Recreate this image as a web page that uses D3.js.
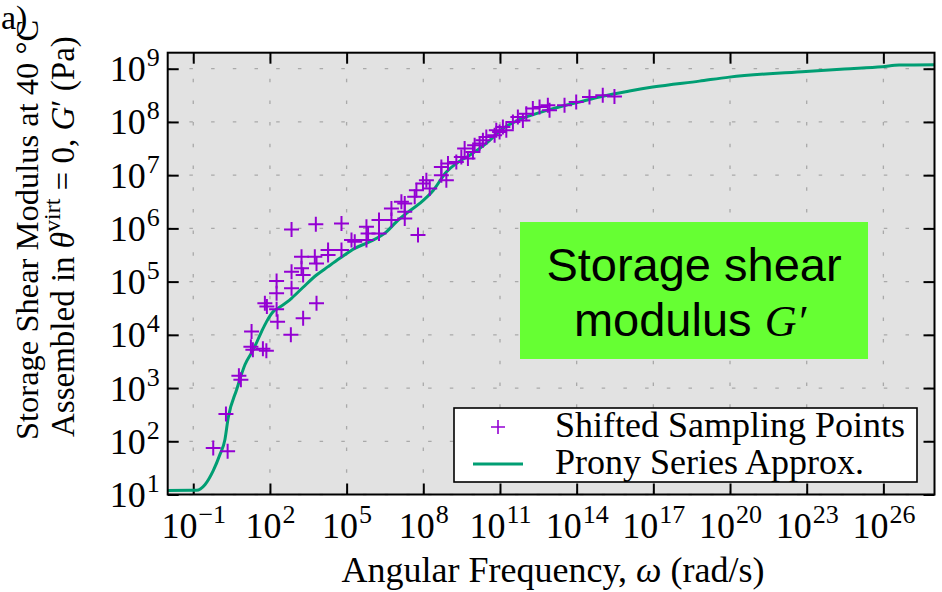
<!DOCTYPE html>
<html>
<head>
<meta charset="utf-8">
<script src="https://cdn.jsdelivr.net/npm/d3@7"></script>
<style>
  html, body { margin: 0; padding: 0; background: #ffffff; }
  svg { display: block; }
</style>
</head>
<body>
<svg id="chart" width="942" height="592"></svg>
<script>
// Shifted sampling points: angular frequency (rad/s) and storage modulus G' (Pa)
const sampleOmega = [
  0.605, 2.21, 1.90, 6.1, 7.3, 19.1, 18, 21.5, 53, 72.5,
  63.4, 75.9, 182, 182, 182, 199, 700, 700, 700, 658,
  1720, 1720, 1990, 1990, 6240, 5700, 6640, 6640, 1.88e4, 1.88e4,
  6.3e4, 6.3e4, 1.55e5, 2.08e5, 5.97e5, 6.9e5, 5.97e5, 1.85e6, 1.85e6, 5.66e6,
  5.66e6, 1.88e7, 1.88e7, 6.2e7, 1.39e7, 1.88e7, 4.61e7, 5.37e7, 9.7e7, 1.32e8,
  1.78e8, 5.09e8, 5.09e8, 7.98e8, 9.23e8, 1.96e9, 3.08e9, 4.14e9, 5.57e9, 8.75e9,
  1.6e10, 2.92e10, 6.17e10, 9.66e10, 1.02e10, 2.15e10, 7.18e10, 1.3e11, 1.77e11, 3.2e11,
  5.01e11, 7.87e11, 1.07e12, 1.93e12, 3.53e12, 7.46e12, 8.69e12, 3.35e13, 9.6e13, 3.18e14,
  1.05e15, 3.01e15
];
const sampleG = [
  75, 65, 325, 1700, 1430, 11600, 5940, 5220, 5460, 5000,
  39200, 33900, 1.03e5, 6.04e4, 3.03e4, 1.77e4, 9.57e5, 1.53e5, 7.5e4, 1.0e4,
  2.93e5, 1.78e5, 1.33e5, 2.05e4, 1.2e6, 2.93e5, 2.2e5, 3.92e4, 3.92e5, 3.16e5,
  1.24e6, 3.92e5, 6.03e5, 5.61e5, 1.07e6, 8.05e5, 6.03e5, 1.43e6, 8.05e5, 2.37e6,
  1.43e6, 2.94e6, 1.54e6, 7.48e5, 3.15e6, 2.05e6, 3.91e6, 5.22e6, 6.98e6, 8.05e6,
  5.62e6, 1.43e7, 9.98e6, 8.05e6, 1.66e7, 1.77e7, 2.2e7, 3.16e7, 2.05e7, 2.73e7,
  3.92e7, 5.22e7, 5.61e7, 6.47e7, 3.65e7, 4.53e7, 6.97e7, 8.04e7, 6.97e7, 9.97e7,
  1.24e8, 1.07e8, 1.43e8, 1.78e8, 1.91e8, 2.05e8, 1.65e8, 2.05e8, 2.37e8, 2.93e8,
  3.16e8, 3.0e8
];

// Prony series approximation of G'(omega)
const pronyOmega = [
  1e-2, 0.136, 0.286, 0.605, 1.10, 1.73, 2.33, 4.97, 10.5, 22.1,
  47.1, 73.8, 134, 210, 700, 1990, 6640, 1.88e4, 5.41e4, 2.08e5,
  8.04e5, 3.61e6, 8.87e6, 2.18e7, 7.23e7, 2.39e8, 7.98e8, 1.96e9, 6.5e9, 2.92e10,
  1.3e11, 5.85e11, 2.62e12, 1.17e13, 5.25e13, 2.36e14, 1.05e15, 1.16e16, 9.46e16, 6.31e18,
  9.4e19, 9.33e22, 3.0e24, 9.12e25, 4.17e26, 1e28
];
const pronyG = [
  11.9, 12.0, 15.3, 28.1, 56.1, 107, 277, 929, 2740, 5220,
  11500, 17700, 27300, 31600, 48600, 78300, 1.33e5, 1.91e5, 2.74e5, 4.22e5,
  5.61e5, 8.63e5, 1.33e6, 1.91e6, 2.94e6, 5.1e6, 1.15e7, 1.66e7, 2.37e7, 3.97e7,
  7.5e7, 1.11e8, 1.43e8, 1.78e8, 2.14e8, 2.55e8, 3.03e8, 3.8e8, 4.52e8, 5.85e8,
  6.95e8, 8.89e8, 9.9e8, 1.09e9, 1.17e9, 1.19e9
];

// Axis ticks (powers of ten)
const xTickExponents = [-1, 2, 5, 8, 11, 14, 17, 20, 23, 26];
const yTickExponents = [1, 2, 3, 4, 5, 6, 7, 8, 9];
const legendLabels = ["Shifted Sampling Points", "Prony Series Approx."];

const serif = "'Liberation Serif', 'Times New Roman', serif";
const sans = "'Liberation Sans', Arial, sans-serif";
const purple = "#9400d3";
const green = "#009e73";

const svg = d3.select("#chart");
const frame = { left: 167.7, right: 934.5, top: 52.7, bottom: 494.5 };

const x = d3.scaleLog().domain([1e-2, 1e28]).range([frame.left, frame.right]);
const y = d3.scaleLog().domain([10, 2e9]).range([frame.bottom, frame.top]);

// plot background
svg.append("rect")
  .attr("x", frame.left).attr("y", frame.top)
  .attr("width", frame.right - frame.left).attr("height", frame.bottom - frame.top)
  .attr("fill", "#e2e2e2");

svg.append("defs").append("clipPath").attr("id", "plot-clip")
  .append("rect")
  .attr("x", frame.left).attr("y", frame.top)
  .attr("width", frame.right - frame.left).attr("height", frame.bottom - frame.top);

const xTicks = xTickExponents.map(e => Math.pow(10, e));
const yTicks = yTickExponents.map(e => Math.pow(10, e));

// dotted grid
const grid = svg.append("g")
  .attr("stroke", "#a9a9a9").attr("stroke-width", 1.3).attr("stroke-dasharray", "3.5,18.2");
grid.selectAll("line.gx").data(xTicks).join("line")
  .attr("x1", d => x(d)).attr("x2", d => x(d))
  .attr("y1", frame.bottom).attr("y2", frame.top);
grid.selectAll("line.gy").data(yTicks).join("line")
  .attr("x1", frame.left).attr("x2", frame.right)
  .attr("y1", d => y(d)).attr("y2", d => y(d));

// tick marks on all four sides, pointing inward
const tickLen = 11;
function styleAxis(g) {
  g.select(".domain").remove();
  g.selectAll(".tick line").attr("stroke", "#000").attr("stroke-width", 2);
  g.selectAll(".tick text").remove();
}
const xAxisBottom = svg.append("g").attr("transform", `translate(0,${frame.bottom})`)
  .call(d3.axisBottom(x).tickValues(xTicks).tickSize(-tickLen).tickFormat(""));
styleAxis(xAxisBottom);
const xAxisTop = svg.append("g").attr("transform", `translate(0,${frame.top})`)
  .call(d3.axisTop(x).tickValues(xTicks).tickSize(-tickLen).tickFormat(""));
styleAxis(xAxisTop);
const yAxisLeft = svg.append("g").attr("transform", `translate(${frame.left},0)`)
  .call(d3.axisLeft(y).tickValues(yTicks).tickSize(-tickLen).tickFormat(""));
styleAxis(yAxisLeft);
const yAxisRight = svg.append("g").attr("transform", `translate(${frame.right},0)`)
  .call(d3.axisRight(y).tickValues(yTicks).tickSize(-tickLen).tickFormat(""));
styleAxis(yAxisRight);

// power-of-ten tick labels
function powerLabel(sel, exp) {
  sel.append("tspan").text("10");
  sel.append("tspan").attr("font-size", 26).attr("dx", 1).attr("dy", -15)
    .text(exp < 0 ? "\u2212" + Math.abs(exp) : String(exp));
}
xAxisBottom.selectAll(".tick").each(function (d, i) {
  const t = d3.select(this).append("text")
    .attr("y", 43).attr("text-anchor", "middle")
    .attr("font-family", serif).attr("font-size", 36).attr("fill", "#000");
  powerLabel(t, xTickExponents[i]);
});
yAxisLeft.selectAll(".tick").each(function (d, i) {
  const t = d3.select(this).append("text")
    .attr("x", -8).attr("y", 12).attr("text-anchor", "end")
    .attr("font-family", serif).attr("font-size", 36).attr("fill", "#000");
  powerLabel(t, yTickExponents[i]);
});

// data layer
const plot = svg.append("g").attr("clip-path", "url(#plot-clip)");

const fitData = pronyOmega.map((w, i) => [w, pronyG[i]]);
const line = d3.line().x(d => x(d[0])).y(d => y(d[1])).curve(d3.curveMonotoneX);
plot.append("path").datum(fitData)
  .attr("d", line).attr("fill", "none")
  .attr("stroke", green).attr("stroke-width", 3).attr("stroke-linejoin", "round");

const samples = sampleOmega.map((w, i) => [w, sampleG[i]]);
const plusPath = "M-7.5,0H7.5M0,-7.5V7.5";
plot.selectAll("path.sample").data(samples).join("path")
  .attr("class", "sample")
  .attr("transform", d => `translate(${x(d[0])},${y(d[1])})`)
  .attr("d", plusPath)
  .attr("fill", "none").attr("stroke", purple).attr("stroke-width", 2);

// annotation box
svg.append("rect")
  .attr("x", 520).attr("y", 222).attr("width", 348).attr("height", 137)
  .attr("fill", "#66ff33");
svg.append("text")
  .attr("x", 694).attr("y", 281).attr("text-anchor", "middle")
  .attr("font-family", sans).attr("font-size", 47).attr("fill", "#000")
  .text("Storage shear");
const ann2 = svg.append("text")
  .attr("x", 690).attr("y", 336).attr("text-anchor", "middle")
  .attr("font-family", sans).attr("font-size", 47).attr("fill", "#000");
ann2.append("tspan").text("modulus ");
ann2.append("tspan").attr("font-family", serif).attr("font-style", "italic")
  .attr("font-size", 44).text("G\u2032");

// legend
const legend = svg.append("g");
legend.append("rect")
  .attr("x", 454).attr("y", 408).attr("width", 463).attr("height", 74)
  .attr("fill", "#ffffff").attr("stroke", "#000").attr("stroke-width", 1.6);
legend.append("path")
  .attr("transform", "translate(498,427)")
  .attr("d", "M-7,0H7M0,-7V7")
  .attr("stroke", purple).attr("stroke-width", 1.6).attr("fill", "none");
legend.append("line")
  .attr("x1", 473).attr("x2", 523).attr("y1", 464).attr("y2", 464)
  .attr("stroke", green).attr("stroke-width", 3);
legend.selectAll("text").data(legendLabels).join("text")
  .attr("x", 555).attr("y", (d, i) => 437 + i * 37)
  .attr("font-family", serif).attr("font-size", 36).attr("fill", "#000")
  .text(d => d);

// frame border
svg.append("rect")
  .attr("x", frame.left).attr("y", frame.top)
  .attr("width", frame.right - frame.left).attr("height", frame.bottom - frame.top)
  .attr("fill", "none").attr("stroke", "#000").attr("stroke-width", 2);

// axis titles
const xTitle = svg.append("text")
  .attr("x", 553).attr("y", 582).attr("text-anchor", "middle")
  .attr("font-family", serif).attr("font-size", 36).attr("fill", "#000");
xTitle.append("tspan").text("Angular Frequency, ");
xTitle.append("tspan").attr("font-style", "italic").text("\u03c9");
xTitle.append("tspan").text(" (rad/s)");

svg.append("text")
  .attr("transform", "translate(38,440) rotate(-90)")
  .attr("font-family", serif).attr("font-size", 32.5).attr("fill", "#000")
  .text("Storage Shear Modulus at 40 \u00b0C");
const yTitle2 = svg.append("text")
  .attr("transform", "translate(74,437) rotate(-90)")
  .attr("font-family", serif).attr("font-size", 33).attr("fill", "#000");
yTitle2.append("tspan").text("Assembled in ");
yTitle2.append("tspan").attr("font-style", "italic").text("\u03b8");
yTitle2.append("tspan").attr("font-size", 24).attr("dy", -14).text("virt");
yTitle2.append("tspan").attr("dy", 14).text(" = 0, ");
yTitle2.append("tspan").attr("font-style", "italic").text("G");
yTitle2.append("tspan").text("\u2032 (Pa)");

// panel label
svg.append("text")
  .attr("x", 1).attr("y", 29)
  .attr("font-family", serif).attr("font-size", 34).attr("fill", "#000")
  .text("a)");
</script>
</body>
</html>
